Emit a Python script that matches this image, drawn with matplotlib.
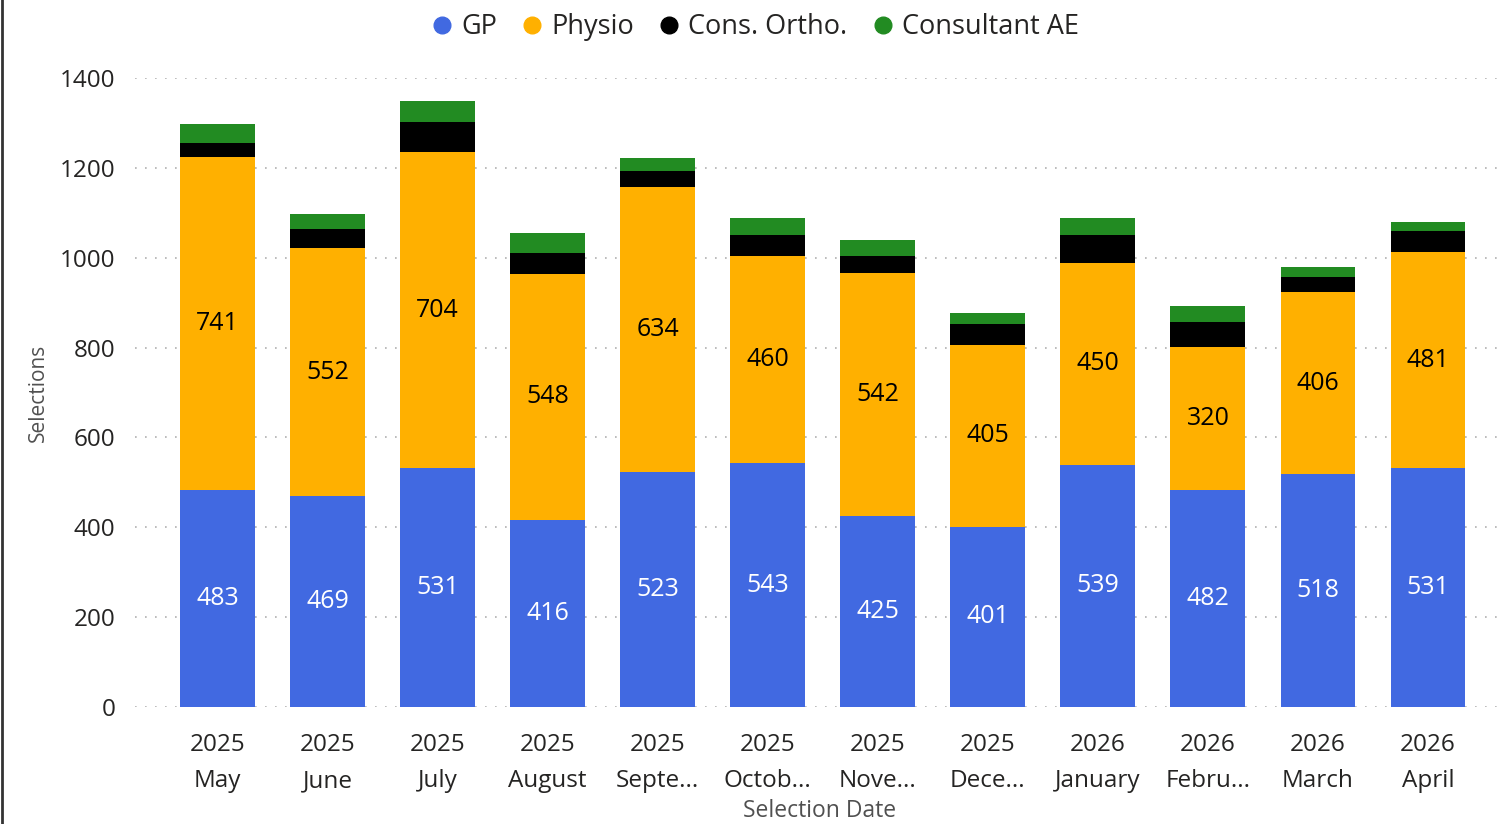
import numpy as np
import matplotlib.pyplot as plt
from matplotlib.lines import Line2D

# monthly selections per referral source
years = ["2025"] * 8 + ["2026"] * 4
months = ["May", "June", "July", "August", "Septe...", "Octob...", "Nove...",
          "Dece...", "January", "Febru...", "March", "April"]
gp = [483, 469, 531, 416, 523, 543, 425, 401, 539, 482, 518, 531]
physio = [741, 552, 704, 548, 634, 460, 542, 405, 450, 320, 406, 481]
ortho = [31, 44, 67, 47, 36, 48, 36, 46, 62, 55, 32, 48]
cons_ae = [42, 33, 47, 44, 30, 37, 36, 26, 37, 36, 23, 19]

c_gp = "#4169E1"
c_physio = "#FFB000"
c_ortho = "#000000"
c_ae = "#228B22"
txt = "#252423"

plt.rcParams['font.family'] = ['Open Sans', 'DejaVu Sans']

fig = plt.figure(figsize=(15.11, 8.24), dpi=100)
ax = fig.add_axes([135 / 1511, 117 / 824, 1370 / 1511, 629 / 824])

x = np.arange(len(months))
w = 0.68
gp = np.array(gp)
physio = np.array(physio)
ortho = np.array(ortho)
cons_ae = np.array(cons_ae)

ax.bar(x, gp, w, color=c_gp, zorder=3)
ax.bar(x, physio, w, bottom=gp, color=c_physio, zorder=3)
ax.bar(x, ortho, w, bottom=gp + physio, color=c_ortho, zorder=3)
ax.bar(x, cons_ae, w, bottom=gp + physio + ortho, color=c_ae, zorder=3)

for i in range(len(x)):
    ax.text(x[i], gp[i] / 2, str(gp[i]), ha="center", va="center",
            color="white", fontsize=18, zorder=4)
    ax.text(x[i], gp[i] + physio[i] / 2, str(physio[i]), ha="center",
            va="center", color="black", fontsize=18, zorder=4)

ax.set_xlim(-0.75, 11.7)
ax.set_ylim(0, 1400)
ax.set_yticks(np.arange(0, 1401, 200))
ax.grid(axis="y", linestyle=(0, (1, 5)), color="#b0b0b0", linewidth=1.2, zorder=0)
for s in ax.spines.values():
    s.set_visible(False)
ax.tick_params(length=0, labelsize=17.5, colors=txt, pad=14)
ax.set_xticks(x)
ax.set_xticklabels([y + "\n" + m for y, m in zip(years, months)],
                   linespacing=1.65)
ax.tick_params(axis="x", pad=19)
ax.set_xlabel("Selection Date", fontsize=16.5, color="#505050", labelpad=4)
ax.set_ylabel("Selections", fontsize=15, color="#505050", labelpad=8)

handles = [Line2D([], [], marker="o", linestyle="", markersize=12, color=c)
           for c in [c_gp, c_physio, c_ortho, c_ae]]
fig.legend(handles, ["GP", "Physio", "Cons. Ortho.", "Consultant AE"],
           loc="center", bbox_to_anchor=(755 / 1511, 1 - 27 / 824), ncol=4,
           frameon=False, fontsize=19.5, handlelength=0.8, handletextpad=0.3,
           columnspacing=0.9, labelcolor=txt)

# left border line
fig.add_artist(Line2D([0.001, 0.001], [0, 1], color="#333333", linewidth=2,
                      transform=fig.transFigure))

fig.savefig("out.png", dpi=100)
